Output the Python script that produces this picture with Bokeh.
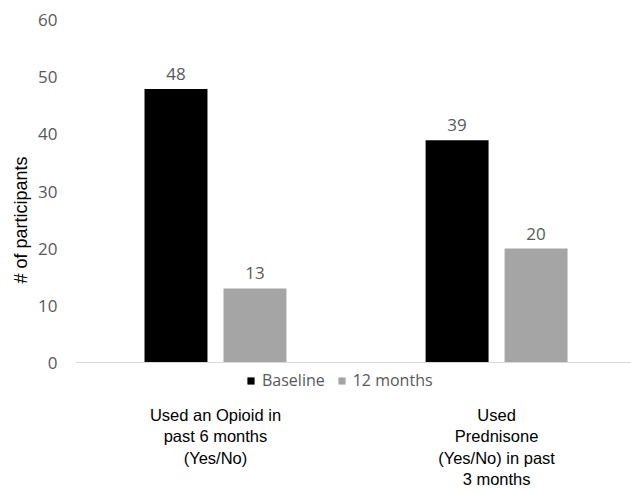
import numpy as np
from bokeh.plotting import figure
from bokeh.models import (ColumnDataSource, Range1d, FixedTicker, LinearAxis, Legend,
                          LegendItem, Span, LabelSet, Title)
from bokeh.transform import dodge
from bokeh.embed import file_html
from bokeh.resources import INLINE
from bokeh.core.properties import value

categories = ["Used an Opioid in\npast 6 months\n(Yes/No)",
              "Used\nPrednisone\n(Yes/No) in past\n3 months"]
series_names = ["Baseline", "12 months"]
baseline = [48, 39]
months12 = [13, 20]
yticks = [0, 10, 20, 30, 40, 50, 60]
y_label = "# of participants"

colors = ["#000000", "#a5a5a5"]
xpos = list(range(len(categories)))

src = ColumnDataSource(data=dict(x=xpos, base=baseline, m12=months12,
                                 base_t=[str(v) for v in baseline],
                                 m12_t=[str(v) for v in months12]))

# frame: y=0 sits 32px above frame bottom (room for the legend)
p = figure(width=631, height=492, output_backend="svg", toolbar_location=None,
           x_range=Range1d(-0.498, 1.480), y_range=Range1d(-5.61, 61.05),
           x_axis_location=None, min_border_left=75, min_border_right=0,
           min_border_top=14, min_border_bottom=98)
p.outline_line_color = None
p.background_fill_color = "white"
p.border_fill_color = "white"
p.xgrid.visible = False
p.ygrid.visible = False

off = 0.1405
bw = 0.224
r1 = p.vbar(x=dodge("x", -off), top="base", bottom=0, width=bw, source=src,
            fill_color=colors[0], line_color=None)
r2 = p.vbar(x=dodge("x", off), top="m12", bottom=0, width=bw, source=src,
            fill_color=colors[1], line_color=None)

for col, t, sgn in (("base", "base_t", -1), ("m12", "m12_t", 1)):
    p.add_layout(LabelSet(x=dodge("x", sgn * off), y=col, text=t, source=src,
                          text_align="center", text_baseline="alphabetic", y_offset=9,
                          text_font=value("Open Sans"), text_font_size=value("17px"),
                          text_color="#595959"))

p.add_layout(Span(location=0, dimension="width", line_color="#d9d9d9", line_width=1.2))

yax = p.yaxis[0]
yax.ticker = FixedTicker(ticks=yticks)
yax.axis_line_color = None
yax.major_tick_line_color = None
yax.minor_tick_line_color = None
yax.major_tick_out = 0
yax.major_tick_in = 0
yax.major_label_standoff = 18
yax.major_label_text_font = "Open Sans"
yax.major_label_text_font_size = "17px"
yax.major_label_text_color = "#595959"

p.add_layout(Title(text=y_label, align="left", offset=111, standoff=10,
                   text_font="Liberation Sans", text_font_size="18px",
                   text_font_style="normal", text_color="#000000"), "left")

legend = Legend(items=[LegendItem(label=series_names[0], renderers=[r1]),
                       LegendItem(label=series_names[1], renderers=[r2])],
                orientation="horizontal", location=(171, 3),
                glyph_width=9, glyph_height=9, label_standoff=7, spacing=12,
                padding=0, margin=0, label_height=16,
                label_text_font="Open Sans", label_text_font_size="16px",
                label_text_color="#595959", border_line_color=None,
                background_fill_alpha=0)
p.add_layout(legend)

xax = LinearAxis(ticker=FixedTicker(ticks=xpos),
                 major_label_overrides={i: c for i, c in zip(xpos, categories)})
xax.axis_line_color = None
xax.major_tick_line_color = None
xax.minor_tick_line_color = None
xax.major_tick_out = 0
xax.major_tick_in = 0
xax.major_label_standoff = 11
xax.major_label_text_font = "Liberation Sans"
xax.major_label_text_font_size = "16.5px"
xax.major_label_text_color = "#000000"
p.add_layout(xax, "below")

open("out.html", "w").write(file_html(p, INLINE))
